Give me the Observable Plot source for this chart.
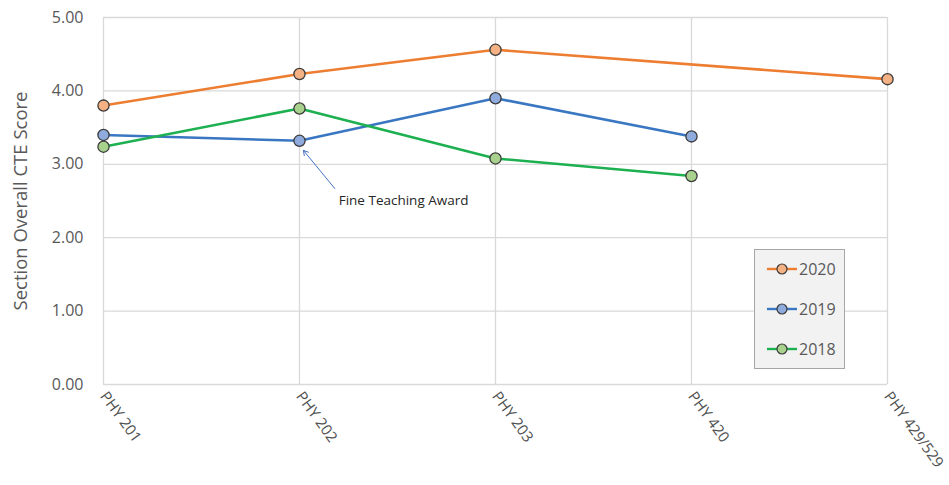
<!DOCTYPE html>
<html><head><meta charset="utf-8">
<script src="https://cdn.jsdelivr.net/npm/d3@7"></script>
<script src="https://cdn.jsdelivr.net/npm/@observablehq/plot@0.6"></script>
<style>
body{margin:0;background:#fff;font-family:"Open Sans",sans-serif}
#wrap{position:relative;width:949px;height:485px}
#legend{position:absolute;left:754px;top:249px;width:91px;height:120px;background:#f2f2f2;border:1px solid #a6a6a6;box-sizing:border-box}
.item{position:absolute;left:12px;height:20px;display:flex;align-items:center;font-size:16px;color:#595959}
.item svg{margin-right:2px}
</style>
</head><body><div id="wrap"></div>
<script>
const courses = ["PHY 201","PHY 202","PHY 203","PHY 420","PHY 429/529"];
const years = ["2020","2019","2018"];
const scores2020 = [3.80, 4.23, 4.56, null, 4.16];
const scores2019 = [3.40, 3.32, 3.90, 3.38, null];
const scores2018 = [3.24, 3.76, 3.08, 2.84, null];
const yTicks = [0, 1, 2, 3, 4, 5];
const lineColors = {"2020": "#ED7D31", "2019": "#3A77C2", "2018": "#1DB050"};
const markerFills = {"2020": "#F4B183", "2019": "#8FAADC", "2018": "#A9D18E"};
const annotationLabel = ["Fine Teaching Award"];
const annotationTextAt = [1.20, 2.51];
const annotationArrowFrom = [1.18, 2.67];
const annotationArrowTo = [1.02, 3.19];

const seriesValues = {"2020": scores2020, "2019": scores2019, "2018": scores2018};
const data = [];
for (const yr of years) {
  seriesValues[yr].forEach((v, i) => { if (v != null) data.push({year: yr, i, course: courses[i], value: v}); });
}
const idx = courses.map((_, i) => i);

const chart = Plot.plot({
  width: 949, height: 485,
  marginLeft: 103, marginRight: 62, marginTop: 17, marginBottom: 101,
  style: {fontFamily: "Open Sans, sans-serif", background: "#fff"},
  x: {type: "linear", domain: [0, courses.length - 1]},
  y: {domain: [0, 5]},
  marks: [
    Plot.gridY(yTicks, {stroke: "#d9d9d9", strokeOpacity: 1, strokeWidth: 1.3}),
    Plot.gridX(idx, {stroke: "#d9d9d9", strokeOpacity: 1, strokeWidth: 1.3}),
    Plot.axisY(yTicks, {tickSize: 0, tickPadding: 20, tickFormat: d3.format(".2f"), fontSize: 16, fill: "#595959",
      label: "Section Overall CTE Score", labelAnchor: "center", labelArrow: "none", labelOffset: 90}),
    Plot.axisX(idx, {tickSize: 0, tickPadding: 9, tickFormat: i => courses[i], tickRotate: 54, textAnchor: "start",
      fontSize: 15, fill: "#505050", label: null}),
    ...years.map(yr => Plot.line(data.filter(d => d.year === yr), {x: "i", y: "value", stroke: lineColors[yr], strokeWidth: 2.6})),
    ...years.map(yr => Plot.dot(data.filter(d => d.year === yr), {x: "i", y: "value", r: 5.6, fill: markerFills[yr], stroke: "#3a3a3a", strokeWidth: 1.3})),
    Plot.arrow([0], {x1: () => annotationArrowFrom[0], y1: () => annotationArrowFrom[1], x2: () => annotationArrowTo[0], y2: () => annotationArrowTo[1],
      stroke: "#4472C4", strokeWidth: 1, headLength: 8}),
    Plot.text(annotationLabel, {x: () => annotationTextAt[0], y: () => annotationTextAt[1], text: d => d, textAnchor: "start", fontSize: 13.5, fill: "#262626"})
  ]
});
const wrap = document.getElementById("wrap");
wrap.appendChild(chart);
chart.querySelectorAll("[aria-label='y-axis label']").forEach(g => {
  g.setAttribute("font-size", "18.5px");
  g.querySelectorAll("text").forEach(t => { t.style.fontSize = "18.5px"; t.setAttribute("fill", "#595959"); });
});

const legend = document.createElement("div");
legend.id = "legend";
years.forEach((yr, k) => {
  const it = document.createElement("div");
  it.className = "item";
  it.style.top = (9 + 40 * k) + "px";
  const svg = d3.create("svg").attr("width", 30).attr("height", 14);
  svg.append("line").attr("x1", 0).attr("x2", 30).attr("y1", 7).attr("y2", 7).attr("stroke", lineColors[yr]).attr("stroke-width", 2.4);
  svg.append("circle").attr("cx", 15).attr("cy", 7).attr("r", 5).attr("fill", markerFills[yr]).attr("stroke", "#3a3a3a").attr("stroke-width", 1.2);
  it.appendChild(svg.node());
  const sp = document.createElement("span");
  sp.textContent = yr;
  it.appendChild(sp);
  legend.appendChild(it);
});
wrap.appendChild(legend);
</script>
</body></html>
